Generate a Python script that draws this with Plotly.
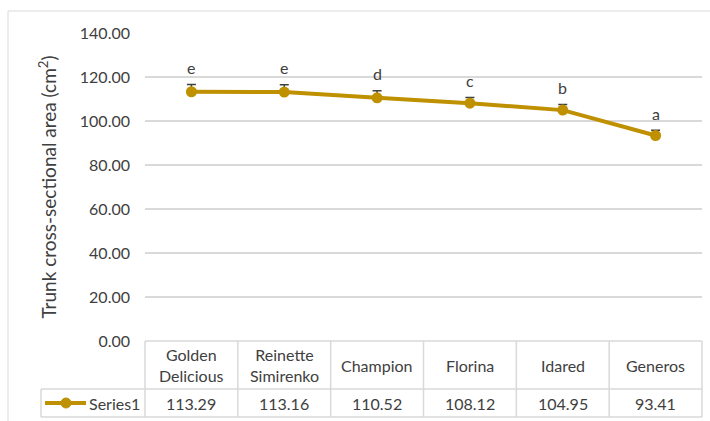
import plotly.graph_objects as go

# Cultivars, mean trunk cross-sectional area, error (upper) and significance letters
cultivars = ["Golden Delicious", "Reinette Simirenko", "Champion", "Florina", "Idared", "Generos"]
header_labels = ["Golden<br>Delicious", "Reinette<br>Simirenko", "Champion", "Florina", "Idared", "Generos"]
tcsa = [113.29, 113.16, 110.52, 108.12, 104.95, 93.41]
err_plus = [3.3, 3.3, 3.2, 2.6, 2.5, 2.4]
letters = ["e", "e", "d", "c", "b", "a"]
series_name = "Series1"
y_ticks = [0, 20, 40, 60, 80, 100, 120, 140]

GOLD = "#BF9000"
GRID = "#D9D9D9"
TXT = "#404040"
FONT = "Lato"
FS = 16

W, H = 710, 421
ML, MR, MT, MB = 145, 8, 33, 80
PW, PH = W - ML - MR, H - MT - MB


def px(x):
    return (x - ML) / PW


def py(y):
    return (H - MB - y) / PH


xs = list(range(len(cultivars)))

fig = go.Figure()
fig.add_trace(go.Scatter(
    x=xs, y=tcsa, mode="lines+markers", name=series_name,
    line=dict(color=GOLD, width=4),
    marker=dict(color=GOLD, size=11),
    error_y=dict(type="data", symmetric=False, array=err_plus,
                 arrayminus=[0] * len(tcsa), color="#404040",
                 thickness=1.5, width=4.5),
    showlegend=False,
))

shapes = []
line_style = dict(color=GRID, width=1.5)
# outer chart border
shapes.append(dict(type="rect", xref="paper", yref="paper",
                   x0=px(8), x1=px(730), y0=py(11), y1=py(440),
                   line=dict(color=GRID, width=1), layer="below"))
# data table grid
top, mid, bot = 341, 389, 417
shapes.append(dict(type="line", xref="paper", yref="paper",
                   x0=px(145), x1=px(702), y0=py(top), y1=py(top), line=line_style))
for yy in (mid, bot):
    shapes.append(dict(type="line", xref="paper", yref="paper",
                       x0=px(41), x1=px(702), y0=py(yy), y1=py(yy), line=line_style))
shapes.append(dict(type="line", xref="paper", yref="paper",
                   x0=px(41), x1=px(41), y0=py(mid), y1=py(bot), line=line_style))
for i in range(len(cultivars) + 1):
    xb = i / len(cultivars)
    shapes.append(dict(type="line", xref="paper", yref="paper",
                       x0=xb, x1=xb, y0=py(top), y1=py(bot), line=line_style))
# legend key in the table
shapes.append(dict(type="line", xref="paper", yref="paper",
                   x0=px(45), x1=px(86), y0=py(403), y1=py(403),
                   line=dict(color=GOLD, width=4)))
shapes.append(dict(type="circle", xref="paper", yref="paper",
                   x0=px(61), x1=px(71), y0=py(398), y1=py(408),
                   fillcolor=GOLD, line=dict(color=GOLD, width=1)))

annotations = []
# significance letters above error bars
for i, (v, e, t) in enumerate(zip(tcsa, err_plus, letters)):
    annotations.append(dict(x=i, y=v + e, xref="x", yref="y", text=t,
                            showarrow=False, yanchor="middle", yshift=17,
                            font=dict(family=FONT, size=FS, color=TXT)))
# table header and values
for i, (lab, v) in enumerate(zip(header_labels, tcsa)):
    annotations.append(dict(x=i, y=py(365), xref="x", yref="paper", text=lab,
                            showarrow=False, yanchor="middle",
                            font=dict(family=FONT, size=FS, color=TXT)))
    annotations.append(dict(x=i, y=py(403), xref="x", yref="paper", text=f"{v:.2f}",
                            showarrow=False, yanchor="middle",
                            font=dict(family=FONT, size=FS, color=TXT)))
annotations.append(dict(x=px(87), y=py(403), xref="paper", yref="paper",
                        text=series_name, showarrow=False, xanchor="left",
                        yanchor="middle", font=dict(family=FONT, size=FS, color=TXT)))

fig.update_layout(
    width=W, height=H,
    margin=dict(l=ML, r=MR, t=MT, b=MB),
    paper_bgcolor="white", plot_bgcolor="white",
    font=dict(family=FONT, size=FS, color=TXT),
    shapes=shapes, annotations=annotations,
    xaxis=dict(range=[-0.5, len(cultivars) - 0.5], showticklabels=False,
               showgrid=False, zeroline=False, showline=False, ticks=""),
    yaxis=dict(range=[0, 140], tickvals=y_ticks, tickformat=".2f",
               showgrid=True, gridcolor=GRID, gridwidth=1.5,
               zeroline=False, showline=False, ticks="",
               ticklabelstandoff=14,
               title=dict(text="Trunk cross-sectional area (cm<sup>2</sup>)",
                          standoff=18, font=dict(family=FONT, size=19, color=TXT))),
)

fig.write_html("out.html")
